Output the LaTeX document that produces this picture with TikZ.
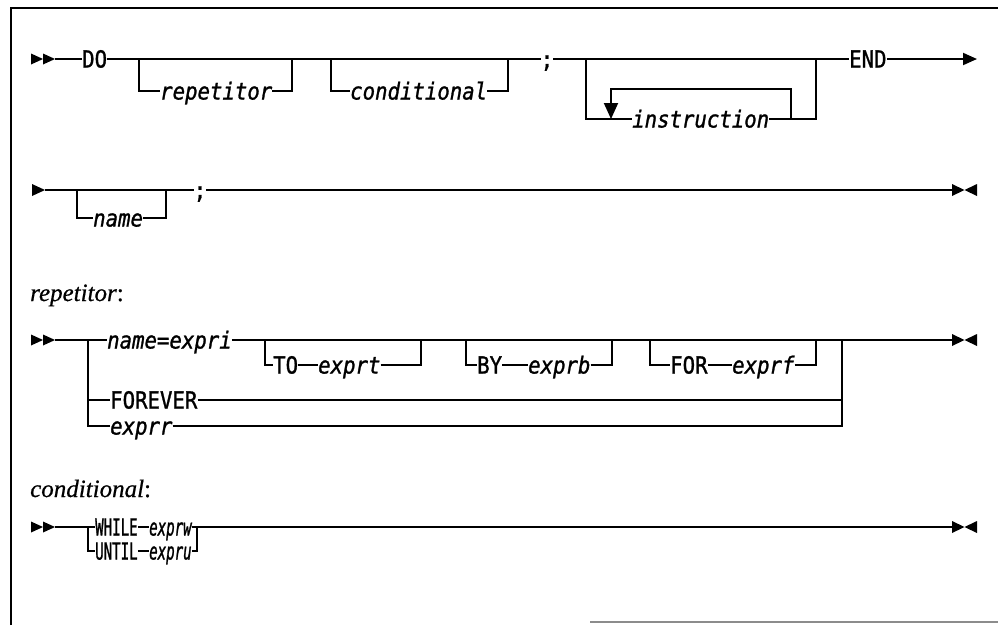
\documentclass[tikz,border=0pt]{standalone}
\usepackage{fontspec}
\usetikzlibrary{arrows.meta}
\newfontfamily\rrmono[FakeStretch=0.88, FakeBold=1.2]{DejaVu Sans Mono}
\newfontfamily\rrmonoc[FakeStretch=0.6, FakeBold=1.0]{DejaVu Sans Mono}
\newfontfamily\rrserif[FakeBold=0.6]{Liberation Serif}

\tikzset{
  track/.style={line width=1.9pt, line cap=butt, line join=miter},
  kw/.style={inner sep=0pt, text height=18pt, text depth=1pt, anchor=west,
    font=\rrmono\fontsize{23.5}{26}\selectfont},
  var/.style={kw, font=\rrmono\itshape\fontsize{23.5}{26}\selectfont},
  kwc/.style={kw, font=\rrmonoc\fontsize{23.5}{26}\selectfont},
  varc/.style={kw, font=\rrmonoc\itshape\fontsize{23.5}{26}\selectfont},
  lab/.style={inner sep=0pt, anchor=base west, font=\rrserif\fontsize{25}{30}\selectfont},
  pics/startmark/.style={code={
    \fill (0,-5.5) -- (12,0) -- (0,5.5) -- cycle;
    \fill (12,-5.5) -- (24,0) -- (12,5.5) -- cycle;
    \coordinate (-o) at (24,0);
  }},
  pics/contmark/.style={code={
    \fill (0,-6) -- (13,0) -- (0,6) -- cycle;
    \coordinate (-o) at (13,0);
  }},
  pics/stopmark/.style={code={
    \fill (0,-6) -- (12.5,0) -- (0,6) -- cycle;
    \fill (25,-6) -- (12.5,0) -- (25,6) -- cycle;
    \coordinate (-i) at (0,0);
  }},
}

\begin{document}
\begin{tikzpicture}[x=1pt, y=-1pt]
  \useasboundingbox (0,0) rectangle (998,625);

  % page frame
  \draw[line width=1.6pt] (11,625) -- (11,8) -- (998,8);
  \draw[line width=1.2pt, black!45] (590,622) -- (998,622);

  % ---------- DO ... END (first line) ----------
  \pic (s1) at (31,59) {startmark};
  \node[kw] (do) at (82,59) {DO};
  \coordinate (rl) at (139,59);  \coordinate (rr) at (292,59);
  \node[var] (rep) at (160,91) {repetitor};
  \coordinate (cl) at (331,59);  \coordinate (cr) at (508,59);
  \node[var] (cnd) at (350,91) {conditional};
  \node[kw, anchor=center] (sc1) at (547,59) {;};
  \coordinate (il) at (586,59);  \coordinate (ir) at (816,59);
  \node[var] (ins) at (632,119) {instruction};
  \coordinate (lr) at (791,119); \coordinate (ll) at (611,119);
  \node[kw] (end) at (849,59) {END};
  \coordinate (t1) at (977,59);

  \draw[track] (s1-o) -- (do.west) (do.east) -- (sc1.west) (sc1.east) -- (end.west);
  \draw[track, -{Triangle[length=14pt,width=12pt]}] (end.east) -- (t1);
  \draw[track] (rl) |- (rep.west) (rep.east) -| (rr);
  \draw[track] (cl) |- (cnd.west) (cnd.east) -| (cr);
  \draw[track] (il) |- (ins.west) (ins.east) -| (ir);
  \draw[track, -{Triangle[length=16pt,width=14pt]}] (lr) -- ++(0,-30) -| (ll);

  % ---------- name ; (second line) ----------
  \pic (s2) at (32,190) {contmark};
  \coordinate (nl) at (77,190);  \coordinate (nr) at (166,190);
  \node[var] (nm) at (93,218) {name};
  \node[kw, anchor=center] (sc2) at (200,190) {;};
  \pic (e2) at (952,190) {stopmark};

  \draw[track] (s2-o) -- (sc2.west) (sc2.east) -- (e2-i);
  \draw[track] (nl) |- (nm.west) (nm.east) -| (nr);

  % ---------- repetitor ----------
  \node[lab] (lrep) at (30,301) {\textit{repetitor}:};
  \pic (s3) at (31,340) {startmark};
  \coordinate (j3) at (88,340);  \coordinate (j3m) at (88,400);  \coordinate (j3b) at (88,426);
  \node[var] (nex) at (107,340) {name=expri};
  \coordinate (tl) at (265,340); \coordinate (tr) at (421,340);
  \node[kw] (to) at (273,365) {TO};
  \node[var] (ext) at (318,365) {exprt};
  \coordinate (bl) at (466,340); \coordinate (br) at (612,340);
  \node[kw] (by) at (477,365) {BY};
  \node[var] (exb) at (528,365) {exprb};
  \coordinate (fl) at (650,340); \coordinate (fr) at (816,340);
  \node[kw] (for) at (670,365) {FOR};
  \node[var] (exf) at (732,365) {exprf};
  \coordinate (orr) at (842,340); \coordinate (orm) at (842,400);
  \node[kw] (fev) at (110,400) {FOREVER};
  \node[var] (exr) at (110,426) {exprr};
  \pic (e3) at (952,340) {stopmark};

  \draw[track] (s3-o) -- (nex.west) (nex.east) -- (e3-i);
  \draw[track] (j3) -- (j3b) -- (exr.west) (exr.east) -| (orr);
  \draw[track] (j3m) -- (fev.west) (fev.east) -- (orm);
  \draw[track] (tl) |- (to.west) (to.east) -- (ext.west) (ext.east) -| (tr);
  \draw[track] (bl) |- (by.west) (by.east) -- (exb.west) (exb.east) -| (br);
  \draw[track] (fl) |- (for.west) (for.east) -- (exf.west) (exf.east) -| (fr);

  % ---------- conditional ----------
  \node[lab] (lcond) at (30,497) {\textit{conditional}:};
  \pic (s4) at (31,527) {startmark};
  \coordinate (j4) at (88,527);  \coordinate (r4) at (197,527);
  \node[kwc] (wh) at (95,527) {WHILE};
  \node[varc] (exw) at (149,527) {exprw};
  \node[kwc] (un) at (95,551) {UNTIL};
  \node[varc] (exu) at (149,551) {expru};
  \pic (e4) at (952,527) {stopmark};

  \draw[track] (s4-o) -- (wh.west) (wh.east) -- (exw.west) (exw.east) -- (e4-i);
  \draw[track] (j4) |- (un.west) (un.east) -- (exu.west) (exu.east) -| (r4);
\end{tikzpicture}
\end{document}
